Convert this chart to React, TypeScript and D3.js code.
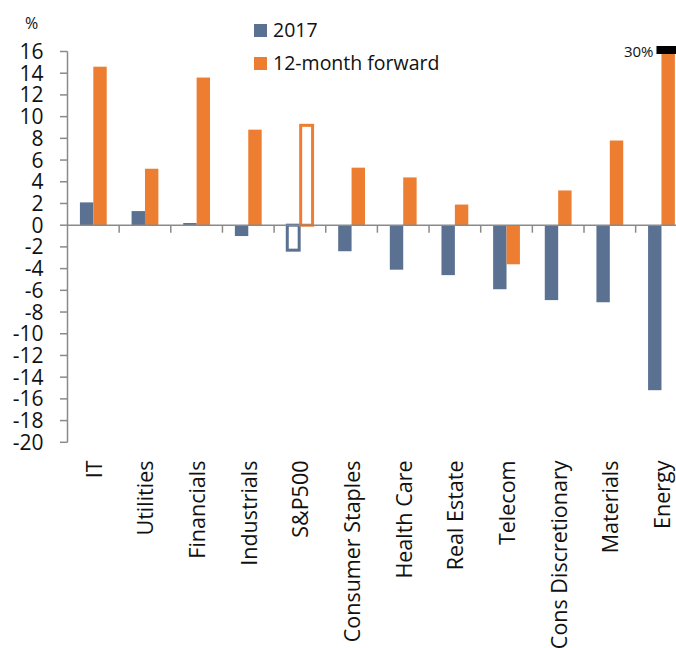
import React from "react";
import * as d3 from "d3";

// Sector earnings growth: 2017 vs 12-month forward (%)
const categories = [
  "IT",
  "Utilities",
  "Financials",
  "Industrials",
  "S&P500",
  "Consumer Staples",
  "Health Care",
  "Real Estate",
  "Telecom",
  "Cons Discretionary",
  "Materials",
  "Energy",
];
const growth2017 = [2.1, 1.3, 0.2, -1.0, -2.3, -2.4, -4.1, -4.6, -5.9, -6.9, -7.1, -15.2];
const growthForward = [14.6, 5.2, 13.6, 8.8, 9.2, 5.3, 4.4, 1.9, -3.6, 3.2, 7.8, 30];
const seriesNames = ["2017", "12-month forward"];
const yTicks = d3.range(-20, 17, 2);
const highlight = "S&P500";

const W = 676;
const H = 648;
const BLUE = "#5b7192";
const ORANGE = "#ed7d31";
const AXIS = "#8a8a8a";
const FONT = "'Open Sans', sans-serif";

export default function App() {
  const y = d3.scaleLinear().domain([-20, 16]).range([442.3, 51.5]);
  const step = 51.65;
  const x0 = d3
    .scaleBand<string>()
    .domain(categories)
    .range([67.5, 67.5 + step * categories.length])
    .padding(0);
  const x1 = d3
    .scaleBand<string>()
    .domain(seriesNames)
    .range([0, 26.8])
    .padding(0);
  const groupOffset = (x0.bandwidth() - 26.8) / 2;
  const [yMin, yMax] = y.domain();
  const clamp = (v: number) => Math.max(yMin, Math.min(yMax, v));
  const y0 = y(0);

  const bars: React.ReactNode[] = [];
  categories.forEach((c, i) => {
    [growth2017[i], growthForward[i]].forEach((v, s) => {
      const color = s === 0 ? BLUE : ORANGE;
      const bx = (x0(c) as number) + groupOffset + (x1(seriesNames[s]) as number);
      const bw = x1.bandwidth();
      const top = y(Math.max(0, clamp(v)));
      const bot = y(Math.min(0, clamp(v)));
      const outlined = c === highlight;
      bars.push(
        <rect
          key={`${c}-${s}`}
          x={bx + (outlined ? 0.75 : 0)}
          y={top}
          width={bw - (outlined ? 1.5 : 0)}
          height={bot - top}
          fill={outlined ? "#fff" : color}
          stroke={outlined ? color : "none"}
          strokeWidth={outlined ? 3 : 0}
        />
      );
      if (v > yMax) {
        bars.push(
          <g key={`${c}-${s}-cap`}>
            <rect x={bx - 5} y={y(yMax) - 5.5} width={bw + 10} height={8} fill="#000" />
            <text
              x={bx - 8}
              y={y(yMax) + 5.5}
              textAnchor="end"
              fontSize={15}
              fontFamily={FONT}
              fill="#111"
            >
              {`${v}%`}
            </text>
          </g>
        );
      }
    });
  });

  return (
    <svg
      width={W}
      height={H}
      style={{ position: "absolute", left: 0, top: 0, display: "block", background: "#fff" }}
    >
      <rect width={W} height={H} fill="#fff" />

      {/* unit label */}
      <text x={25} y={29} fontSize={16} fontFamily={FONT} fill="#111">
        %
      </text>

      {/* legend */}
      {seriesNames.map((n, i) => (
        <g key={n} transform={`translate(254, ${24 + i * 33})`}>
          <rect width={13} height={13} fill={i === 0 ? BLUE : ORANGE} />
          <text x={19} y={13} fontSize={19.5} fontFamily={FONT} fill="#111">
            {n}
          </text>
        </g>
      ))}

      {bars}

      {/* y axis */}
      <line x1={67.5} x2={67.5} y1={y(yMax)} y2={y(yMin)} stroke={AXIS} strokeWidth={1.5} />
      {yTicks.map((t) => (
        <g key={t}>
          <line x1={60} x2={67.5} y1={y(t)} y2={y(t)} stroke={AXIS} strokeWidth={1.5} />
          <text
            x={43.5}
            y={y(t)}
            dy="0.36em"
            textAnchor="end"
            fontSize={21}
            fontFamily={FONT}
            fill="#111"
          >
            {t}
          </text>
        </g>
      ))}

      {/* x axis at zero */}
      <line x1={67.5} x2={W} y1={y0} y2={y0} stroke={AXIS} strokeWidth={1.5} />
      {categories.map((c) => (
        <line
          key={c}
          x1={(x0(c) as number) + step}
          x2={(x0(c) as number) + step}
          y1={y0}
          y2={y0 + 7.5}
          stroke={AXIS}
          strokeWidth={1.5}
        />
      ))}

      {/* category labels */}
      {categories.map((c) => (
        <text
          key={c}
          transform={`translate(${(x0(c) as number) + step / 2 + 8.5}, 460.5) rotate(-90)`}
          textAnchor="end"
          fontSize={21.5}
          fontFamily={FONT}
          fill="#111"
        >
          {c}
        </text>
      ))}
    </svg>
  );
}
